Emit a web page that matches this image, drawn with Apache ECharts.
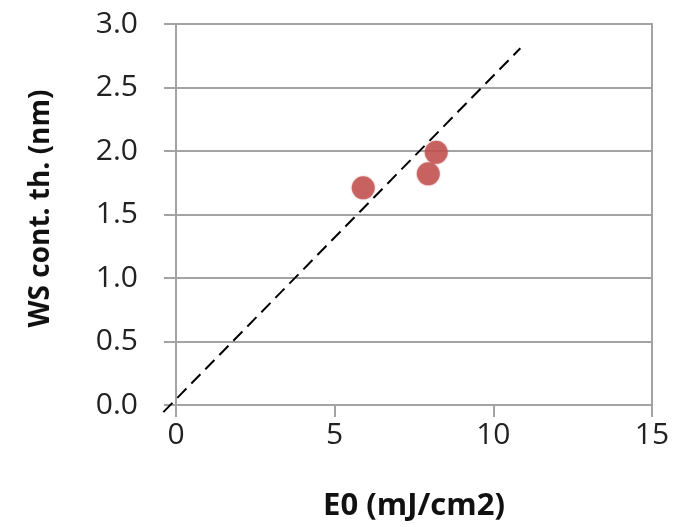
<!DOCTYPE html>
<html>
<head>
<meta charset="utf-8">
<script src="https://cdn.jsdelivr.net/npm/echarts@6/dist/echarts.min.js"></script>
<style>
  html, body { margin: 0; padding: 0; background: #fff; }
  #chart { width: 686px; height: 527px; }
</style>
</head>
<body>
<div id="chart"></div>
<script>
// measured points: E0 vs WS continuous thickness
const e0Values = [5.9, 7.95, 8.2];
const wsThickness = [1.71, 1.82, 1.99];
// dashed guide line end points [x, y]; it pokes a little past the origin
const guideLine = [[-0.4, -0.04], [10.85, 2.81]];
const xTicks = { min: 0, max: 15, interval: 5 };
const yTicks = { min: 0, max: 3, interval: 0.5 };
// hidden overlay axes share the same scale but reach slightly below 0
const overlayMin = { x: -0.5, y: -0.05 };

const gridGrey = "#a3a3a3";
const font = "'Open Sans', 'Liberation Sans', sans-serif";

const plot = { left: 176, right: 34, top: 24, bottom: 120 };
const plotW = 686 - plot.left - plot.right;
const plotH = 527 - plot.top - plot.bottom;
const pxPerX = plotW / (xTicks.max - xTicks.min);
const pxPerY = plotH / (yTicks.max - yTicks.min);

const chart = echarts.init(document.getElementById("chart"));

chart.setOption({
  animation: false,
  grid: [
    { ...plot, show: true, borderColor: gridGrey, borderWidth: 2 },
    {
      left: plot.left + overlayMin.x * pxPerX,
      right: plot.right,
      top: plot.top,
      bottom: plot.bottom + overlayMin.y * pxPerY
    }
  ],
  xAxis: [
    {
      type: "value",
      min: xTicks.min, max: xTicks.max, interval: xTicks.interval,
      name: "E0 (mJ/cm2)",
      nameLocation: "middle",
      nameGap: 86,
      nameTextStyle: { fontFamily: font, fontSize: 31, fontWeight: "bold", color: "#111" },
      axisLine: { lineStyle: { color: gridGrey, width: 2 } },
      axisTick: { show: true, length: 12, lineStyle: { color: gridGrey, width: 2 } },
      axisLabel: { margin: 15, fontFamily: font, fontSize: 30, color: "#222" },
      splitLine: { show: false }
    },
    {
      type: "value", gridIndex: 1,
      min: overlayMin.x, max: xTicks.max,
      show: false
    }
  ],
  yAxis: [
    {
      type: "value",
      min: yTicks.min, max: yTicks.max, interval: yTicks.interval,
      name: "WS cont. th. (nm)",
      nameLocation: "middle",
      nameGap: 121,
      nameTextStyle: {
        fontFamily: font, fontSize: 28, fontWeight: "bold", color: "#111",
        padding: [0, 0, 0, 12]
      },
      axisLine: { show: true, lineStyle: { color: gridGrey, width: 2 } },
      axisTick: { show: true, length: 12, lineStyle: { color: gridGrey, width: 2 } },
      axisLabel: {
        margin: 38, fontFamily: font, fontSize: 30, color: "#222",
        formatter: (v) => v.toFixed(1)
      },
      splitLine: { show: true, lineStyle: { color: gridGrey, width: 2 } }
    },
    {
      type: "value", gridIndex: 1,
      min: overlayMin.y, max: yTicks.max,
      show: false
    }
  ],
  series: [
    {
      type: "line",
      xAxisIndex: 1,
      yAxisIndex: 1,
      data: guideLine,
      symbol: "none",
      lineStyle: { color: "#000", width: 2, type: [13, 7] },
      z: 10
    },
    {
      type: "scatter",
      data: e0Values.map((x, i) => [x, wsThickness[i]]),
      symbolSize: 23,
      itemStyle: { color: "#c0504d", shadowBlur: 2, shadowColor: "rgba(192,80,77,0.6)" },
      z: 11
    }
  ]
});
</script>
</body>
</html>
